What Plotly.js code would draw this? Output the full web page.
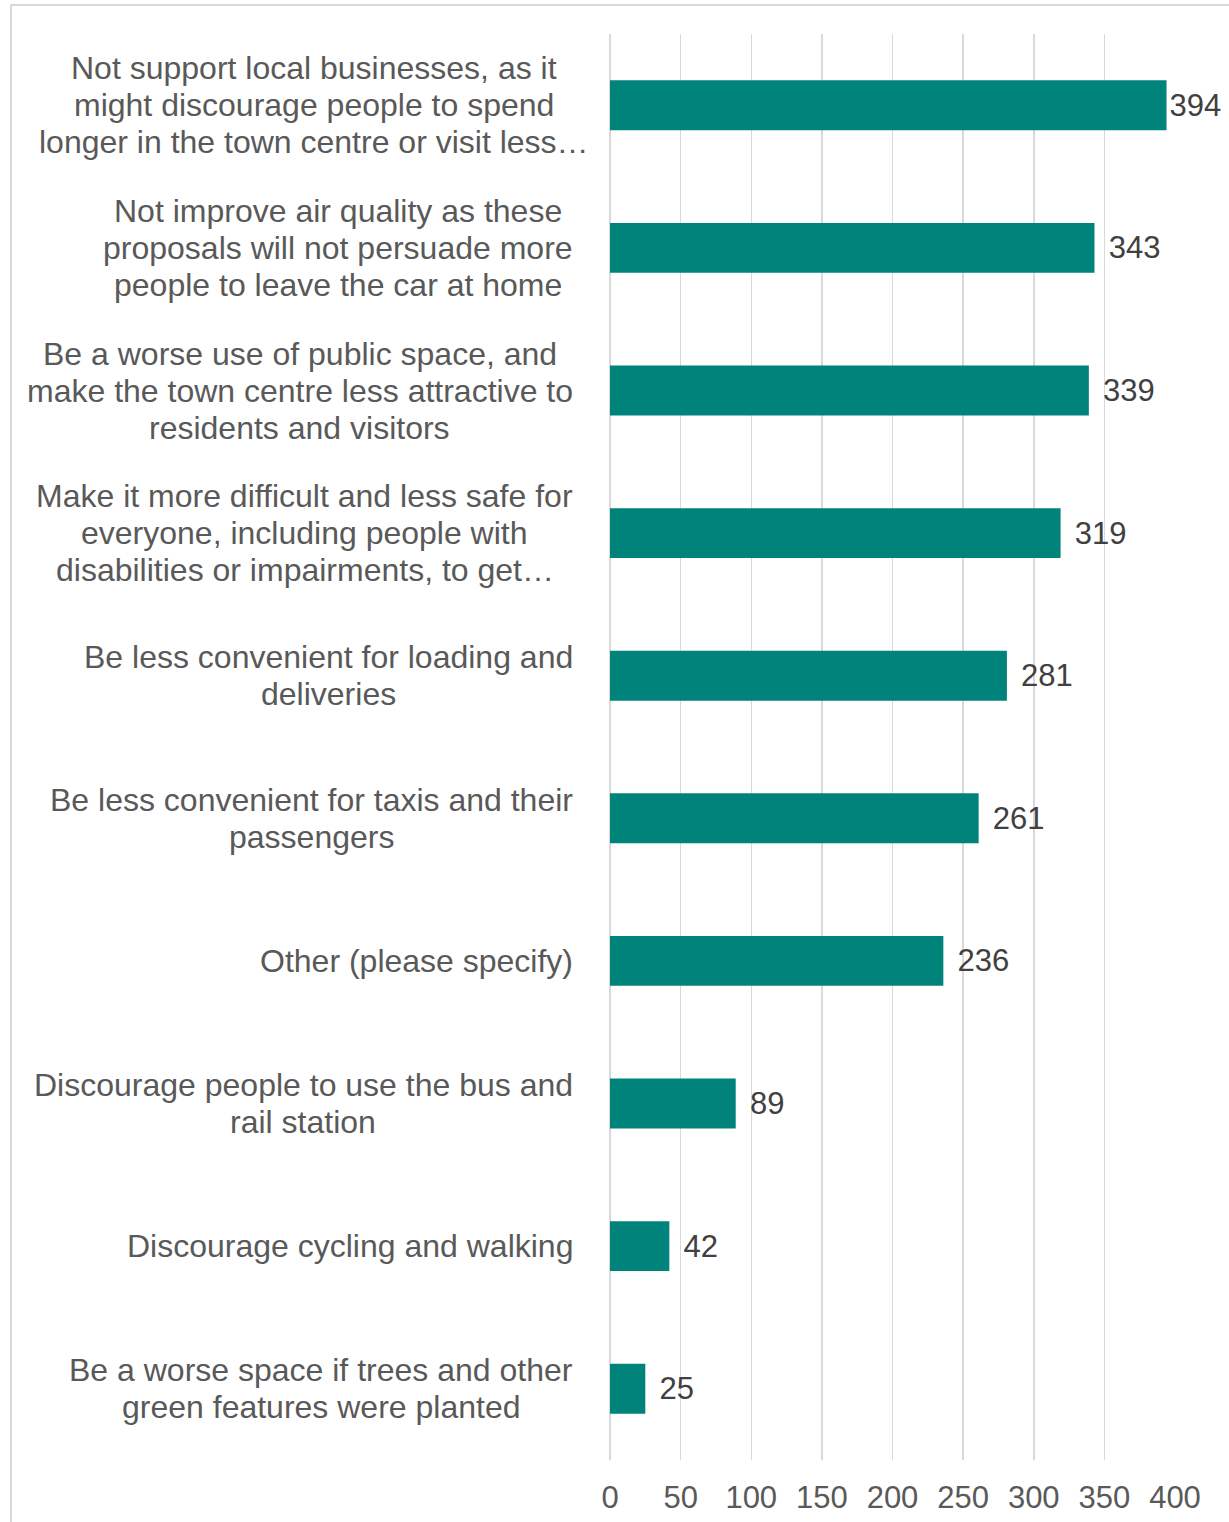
<!DOCTYPE html>
<html>
<head>
<meta charset="utf-8">
<script src="https://cdn.plot.ly/plotly-3.0.1.min.js"></script>
<style>
html,body{margin:0;padding:0;background:#fff;}
#chart{width:1229px;height:1522px;}
</style>
</head>
<body>
<div id="chart"></div>
<script>
var categories = [
  "Not support local businesses, as it<br>might discourage people to spend<br>longer in the town centre or visit less…",
  "Not improve air quality as these<br>proposals will not persuade more<br>people to leave the car at home",
  "Be a worse use of public space, and<br>make the town centre less attractive to<br>residents and visitors",
  "Make it more difficult and less safe for<br>everyone, including people with<br>disabilities or impairments, to get…",
  "Be less convenient for loading and<br>deliveries",
  "Be less convenient for taxis and their<br>passengers",
  "Other (please specify)",
  "Discourage people to use the bus and<br>rail station",
  "Discourage cycling and walking",
  "Be a worse space if trees and other<br>green features were planted"
];
var values = [394, 343, 339, 319, 281, 261, 236, 89, 42, 25];
var tickValues = [0, 50, 100, 150, 200, 250, 300, 350, 400];

var W = 1229, H = 1522;
var mL = 610, mR = 54, mT = 34, mB = 62;
var pw = W - mL - mR, ph = H - mT - mB;
function px2x(p){ return (p - mL) / pw; }
function py2y(p){ return 1 - (p - mT) / ph; }

var FONT = 'Liberation Sans, Arial, sans-serif';
var labelSize = 32, lineGap = 37, labelRight = 573;

var cv = document.createElement('canvas').getContext('2d');
cv.font = labelSize + 'px "Liberation Sans", Arial, sans-serif';
function tw(s){ return cv.measureText(s).width; }

var trace = {
  type: 'bar',
  orientation: 'h',
  x: values,
  y: categories,
  marker: {color: '#00837A'},
  text: values.map(String),
  texttemplate: values.map(function(v, i){ return i === 0 ? '%{text}' : '\u0020\u200A%{text}'; }),
  textposition: 'outside',
  cliponaxis: false,
  constraintext: 'none',
  textfont: {family: FONT, size: 31, color: '#404040'},
  hoverinfo: 'none'
};

var annotations = [];
categories.forEach(function(c){
  var lines = c.split('<br>');
  var maxW = 0;
  lines.forEach(function(l){ maxW = Math.max(maxW, tw(l.replace(/…$/, ''))); });
  var center = labelRight - maxW / 2;
  var n = lines.length;
  lines.forEach(function(l, i){
    annotations.push({
      xref: 'paper', yref: 'y',
      x: px2x(center), y: c,
      xanchor: 'center', yanchor: 'middle',
      yshift: ((n - 1) / 2 - i) * lineGap,
      text: l,
      showarrow: false,
      font: {family: FONT, size: labelSize, color: '#595959'}
    });
  });
});

var shapes = [
  {type: 'line', xref: 'paper', yref: 'paper', x0: px2x(11), x1: px2x(11), y0: py2y(5), y1: py2y(1540), line: {color: '#d9d9d9', width: 2}},
  {type: 'line', xref: 'paper', yref: 'paper', x0: px2x(10), x1: px2x(1240), y0: py2y(5), y1: py2y(5), line: {color: '#d9d9d9', width: 2}}
];

var layout = {
  width: W, height: H,
  margin: {l: mL, r: mR, t: mT, b: mB, pad: 0},
  paper_bgcolor: '#ffffff',
  plot_bgcolor: '#ffffff',
  showlegend: false,
  bargap: 0.65,
  font: {family: FONT, color: '#595959'},
  xaxis: {
    range: [0, 400],
    tickvals: tickValues,
    ticktext: tickValues.map(String),
    showgrid: true, gridcolor: '#d9d9d9', gridwidth: 1.5,
    zeroline: true, zerolinecolor: '#d9d9d9', zerolinewidth: 1.5,
    showline: false, ticks: '',
    ticklabelstandoff: 16,
    tickfont: {family: FONT, size: 31, color: '#595959'},
    fixedrange: true
  },
  yaxis: {
    type: 'category',
    categoryorder: 'array',
    categoryarray: categories,
    autorange: 'reversed',
    showticklabels: false,
    showgrid: false, zeroline: false, showline: false, ticks: '',
    fixedrange: true
  },
  annotations: annotations,
  shapes: shapes
};

Plotly.newPlot('chart', [trace], layout, {displayModeBar: false, staticPlot: true});
</script>
</body>
</html>
